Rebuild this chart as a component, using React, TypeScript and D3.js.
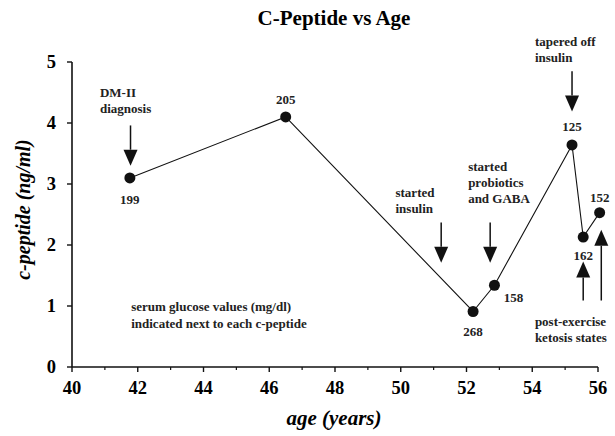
import React from "react";
import * as d3 from "d3";

const width = 615;
const height = 436;
const margin = { top: 62, right: 17, bottom: 69, left: 72 };

// measured points: age (years), c-peptide (ng/ml), serum glucose (mg/dl)
const ages = [41.76, 46.5, 52.2, 52.85, 55.21, 55.55, 56.05];
const cpeptide = [3.1, 4.1, 0.91, 1.34, 3.64, 2.13, 2.53];
const glucose = [199, 205, 268, 158, 125, 162, 152];
// where each glucose label sits relative to its point (px)
const glucoseOffsets = [
  [0, 26],
  [0, -13],
  [0, 25],
  [19, 17],
  [0, -14],
  [0, 23],
  [0, -11],
];

const xTicks = [40, 42, 44, 46, 48, 50, 52, 54, 56];
const xMinorTicks = [41, 43, 45, 47, 49, 51, 53, 55];
const yTicks = [0, 1, 2, 3, 4, 5];

// event arrows: x = age, from/to in c-peptide units (to = arrow tip)
const arrowAges = [41.78, 51.23, 52.72, 55.21, 55.55, 56.1];
const arrowFrom = [3.96, 2.37, 2.37, 4.85, 1.09, 1.09];
const arrowTo = [3.3, 1.71, 1.71, 4.19, 1.73, 2.25];

const noteLines = [
  ["DM-II", "diagnosis"],
  ["started", "insulin"],
  ["started", "probiotics", "and GABA"],
  ["tapered off", "insulin"],
  ["post-exercise", "ketosis states"],
  ["serum glucose values (mg/dl)", "indicated next to each c-peptide"],
];
const noteAges = [40.85, 49.84, 52.05, 54.08, 54.08, 41.8];
const noteTops = [4.43, 2.78, 3.22, 5.27, 0.68, 0.92];

const serif = "'Liberation Serif', 'DejaVu Serif', serif";

const App = () => {
  const x = d3
    .scaleLinear()
    .domain([40, 56])
    .range([margin.left, width - margin.right]);
  const y = d3
    .scaleLinear()
    .domain([0, 5])
    .range([height - margin.bottom, margin.top]);

  const points = ages.map((a, i) => [a, cpeptide[i]] as [number, number]);
  const line = d3
    .line<[number, number]>()
    .x((d) => x(d[0]))
    .y((d) => y(d[1]));

  const x0 = x(40);
  const y0 = y(0);

  return (
    <svg width={width} height={height} style={{ position: "absolute", left: 0, top: 0 }}>
      <rect width={width} height={height} fill="#fff" />
      <text x={334} y={25} textAnchor="middle" fontFamily={serif} fontWeight="bold" fontSize={21}>
        C-Peptide vs Age
      </text>

      {/* axes */}
      <line x1={x0} x2={x0} y1={y(5)} y2={y0} stroke="#111" strokeWidth={1.6} />
      <line x1={x0} x2={x(56)} y1={y0} y2={y0} stroke="#111" strokeWidth={1.6} />
      {yTicks.map((t) => (
        <g key={"y" + t}>
          <line x1={x0 - 5} x2={x0} y1={y(t)} y2={y(t)} stroke="#111" strokeWidth={1.4} />
          <text x={x0 - 16} y={y(t) + 6} textAnchor="end" fontFamily={serif} fontWeight="bold" fontSize={18.5}>
            {t}
          </text>
        </g>
      ))}
      {xTicks.map((t) => (
        <g key={"x" + t}>
          <line x1={x(t)} x2={x(t)} y1={y0} y2={y0 + 5} stroke="#111" strokeWidth={1.4} />
          <text x={x(t)} y={y0 + 27} textAnchor="middle" fontFamily={serif} fontWeight="bold" fontSize={18.5}>
            {t}
          </text>
        </g>
      ))}
      {xMinorTicks.map((t) => (
        <line key={"m" + t} x1={x(t)} x2={x(t)} y1={y0} y2={y0 + 3} stroke="#111" strokeWidth={1.2} />
      ))}
      <text
        transform={`translate(30,${(y(5) + y0) / 2 - 5}) rotate(-90)`}
        textAnchor="middle"
        fontFamily={serif}
        fontWeight="bold"
        fontStyle="italic"
        fontSize={20}
      >
        c-peptide (ng/ml)
      </text>
      <text x={334} y={425} textAnchor="middle" fontFamily={serif} fontWeight="bold" fontStyle="italic" fontSize={21}>
        age (years)
      </text>

      {/* series */}
      <path d={line(points) || ""} fill="none" stroke="#111" strokeWidth={1.1} />
      {points.map((p, i) => (
        <circle key={"p" + i} cx={x(p[0])} cy={y(p[1])} r={5.5} fill="#111" />
      ))}
      {points.map((p, i) => (
        <text
          key={"g" + i}
          x={x(p[0]) + glucoseOffsets[i][0]}
          y={y(p[1]) + glucoseOffsets[i][1]}
          textAnchor="middle"
          fontFamily={serif}
          fontWeight="bold"
          fontSize={13}
          fill="#222"
        >
          {glucose[i]}
        </text>
      ))}

      {/* arrows */}
      {arrowAges.map((a, i) => {
        const ax = x(a);
        const yf = y(arrowFrom[i]);
        const yt = y(arrowTo[i]);
        const dir = yt > yf ? 1 : -1;
        const head = 16;
        return (
          <g key={"a" + i}>
            <line x1={ax} x2={ax} y1={yf} y2={yt - dir * head} stroke="#111" strokeWidth={1.5} />
            <path
              d={`M${ax - 7},${yt - dir * head} L${ax + 7},${yt - dir * head} L${ax},${yt} Z`}
              fill="#111"
            />
          </g>
        );
      })}

      {/* notes */}
      {noteLines.map((lines, i) => (
        <text
          key={"n" + i}
          x={x(noteAges[i])}
          y={y(noteTops[i])}
          fontFamily={serif}
          fontWeight="bold"
          fontSize={13}
          fill="#222"
        >
          {lines.map((l, j) => (
            <tspan key={j} x={x(noteAges[i])} dy={j === 0 ? 0 : i === 5 ? 17 : 16}>
              {l}
            </tspan>
          ))}
        </text>
      ))}
    </svg>
  );
};

export default App;
